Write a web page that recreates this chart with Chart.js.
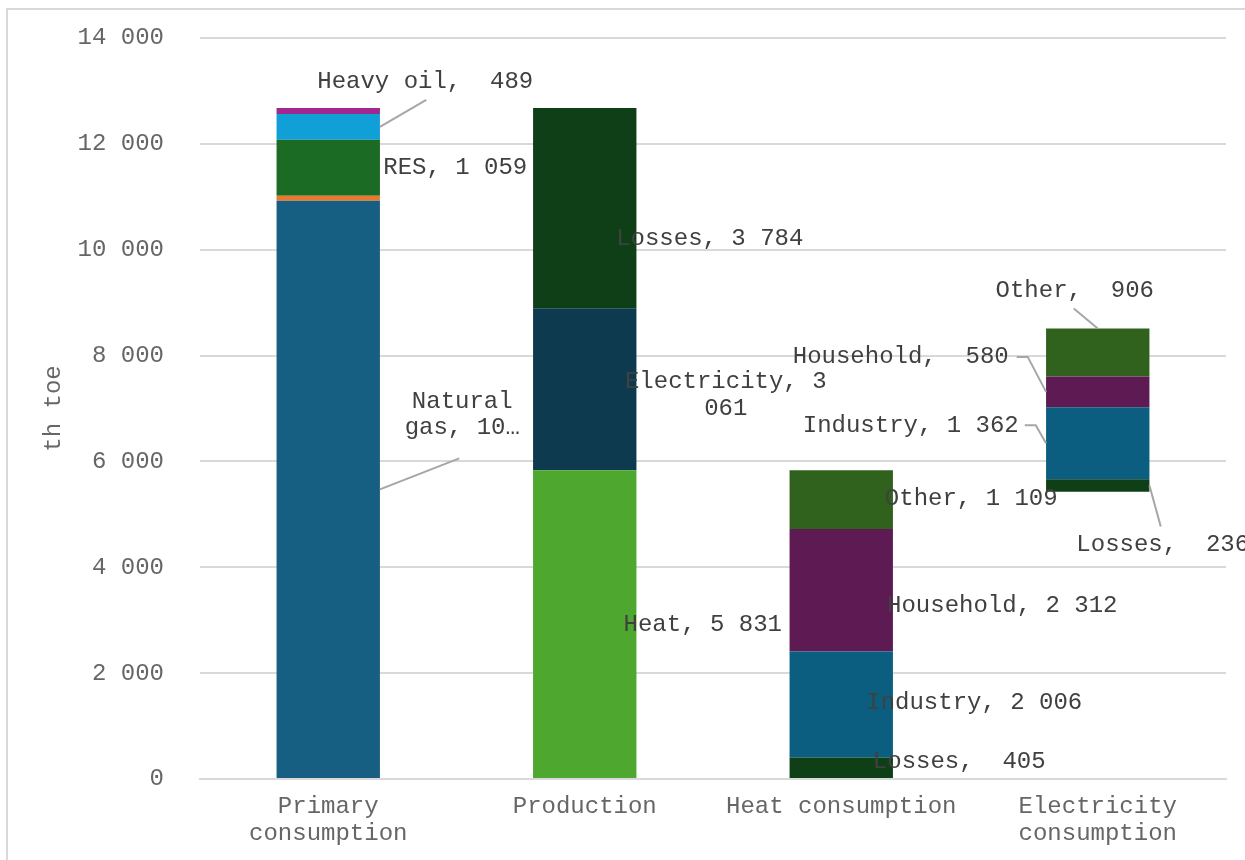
<!DOCTYPE html>
<html>
<head>
<meta charset="utf-8">
<title>Energy balance, th toe</title>
<script src="https://cdn.jsdelivr.net/npm/chart.js@4.4.1/dist/chart.umd.min.js"></script>
<style>
    html, body { margin: 0; padding: 0; background: #fff; }
    #chartBox { width: 1245px; height: 860px; }
</style>
</head>
<body>
<div id="chartBox"><canvas id="balanceChart" width="1245" height="860"></canvas></div>
<script>
// Categories on the x axis
const categories = [['Primary', 'consumption'], 'Production', 'Heat consumption', ['Electricity', 'consumption']];

// Segments of each column, bottom to top (th toe)
const primaryNames = ['Natural gas', 'Coal', 'RES', 'Heavy oil', 'Other fuels'];
const primaryValues = [10923, 95, 1059, 489, 110];

const productionNames = ['Heat', 'Electricity', 'Losses'];
const productionValues = [5831, 3061, 3784];

const heatNames = ['Losses', 'Industry', 'Household', 'Other'];
const heatValues = [405, 2006, 2312, 1109];

const elecNames = ['Losses', 'Industry', 'Household', 'Other'];
const elecValues = [236, 1362, 580, 906];

// Electricity consumption column floats on an invisible base
const floatBase = [0, 0, 0, 5426];

const yTicks = [0, 2000, 4000, 6000, 8000, 10000, 12000, 14000];

// Colours per column, bottom to top
const primaryColors = ['#175f82', '#e8792f', '#1b6b24', '#119fd8', '#a0288e'];
const productionColors = ['#4ea72e', '#0e3a50', '#0f3f17'];
const heatColors = ['#0f3f17', '#0b5e80', '#5e1a53', '#30621d'];
const elecColors = ['#0f3f17', '#0b5e80', '#5e1a53', '#30621d'];

const FONT = '"Courier New", "Liberation Mono", monospace';
const TEXT = '#404040';
const TICK = '#666666';
const GRID = '#d9d9d9';
const LEADER = '#a6a6a6';

function fmt(v) {
    const s = String(Math.round(v));
    if (s.length <= 3) return ' ' + s;
    return s.slice(0, s.length - 3) + ' ' + s.slice(s.length - 3);
}

// Greedy word wrap with ellipsis on the last allowed line
function wrap(text, maxChars, maxLines) {
    const words = text.split(' ');
    const lines = [];
    let cur = '';
    words.forEach(w => {
        const next = cur ? cur + ' ' + w : w;
        if (next.length > maxChars && cur) {
            lines.push(cur);
            cur = w;
        } else {
            cur = next;
        }
    });
    if (cur) lines.push(cur);
    if (maxLines && lines.length > maxLines) {
        const kept = lines.slice(0, maxLines);
        kept[maxLines - 1] = kept[maxLines - 1] + '…';
        return kept;
    }
    return lines;
}

// Build stacked datasets: one per stack level, coloured per column
const columns = [
    { names: primaryNames, values: primaryValues, colors: primaryColors },
    { names: productionNames, values: productionValues, colors: productionColors },
    { names: heatNames, values: heatValues, colors: heatColors },
    { names: elecNames, values: elecValues, colors: elecColors }
];
const levels = Math.max(...columns.map(c => c.values.length));

const datasets = [{
    label: 'base',
    data: floatBase,
    backgroundColor: 'rgba(0,0,0,0)',
    stack: 's'
}];
for (let i = 0; i < levels; i++) {
    datasets.push({
        label: 'level ' + (i + 1),
        data: columns.map(c => c.values[i] !== undefined ? c.values[i] : null),
        backgroundColor: columns.map(c => c.colors[i] || 'rgba(0,0,0,0)'),
        stack: 's'
    });
}

// Data label layout: offsets from the segment centre, optional leader line
// col = column index, seg = segment index within the column
const labelLayout = [
    { col: 0, seg: 0, dx: 134, dy: -75, wrap: 8, maxLines: 2, leader: { pts: [[131, -31]], edge: 'right' } },
    { col: 0, seg: 2, dx: 127, dy: 0 },
    { col: 0, seg: 3, dx: 97, dy: -45, leader: { pts: [[98, -27]], edge: 'right' } },
    { col: 1, seg: 0, dx: 118, dy: 0 },
    { col: 1, seg: 1, dx: 141, dy: 6, wrap: 14 },
    { col: 1, seg: 2, dx: 125, dy: 30 },
    { col: 2, seg: 0, dx: 118, dy: -6 },
    { col: 2, seg: 1, dx: 133, dy: -2 },
    { col: 2, seg: 2, dx: 161, dy: 15 },
    { col: 2, seg: 3, dx: 130, dy: -1 },
    { col: 3, seg: 0, dx: 65, dy: 59, leader: { pts: [[63, 41]], edge: 'right' } },
    { col: 3, seg: 1, dx: -187, dy: -18, leader: { pts: [[-73, -18], [-62, -18]], edge: 'left' } },
    { col: 3, seg: 2, dx: -197, dy: -35, leader: { pts: [[-81, -35], [-70, -35]], edge: 'left' } },
    { col: 3, seg: 3, dx: -23, dy: -62, leader: { pts: [[-24, -44]], edge: 'top' } }
];

const segmentLabels = {
    id: 'segmentLabels',
    afterDatasetsDraw(chart) {
        const ctx = chart.ctx;
        ctx.save();
        ctx.font = '24px ' + FONT;
        ctx.textAlign = 'center';
        ctx.textBaseline = 'middle';
        labelLayout.forEach(spec => {
            const col = columns[spec.col];
            const el = chart.getDatasetMeta(spec.seg + 1).data[spec.col];
            if (!el) return;
            const cx = el.x;
            const cy = (el.y + el.base) / 2;
            const hw = el.width / 2;

            if (spec.leader) {
                ctx.strokeStyle = LEADER;
                ctx.lineWidth = 2;
                ctx.beginPath();
                spec.leader.pts.forEach((p, i) => {
                    if (i === 0) ctx.moveTo(cx + p[0], cy + p[1]);
                    else ctx.lineTo(cx + p[0], cy + p[1]);
                });
                if (spec.leader.edge === 'right') ctx.lineTo(cx + hw, cy);
                else if (spec.leader.edge === 'left') ctx.lineTo(cx - hw, cy);
                else ctx.lineTo(cx, el.y);
                ctx.stroke();
            }

            const text = col.names[spec.seg] + ', ' + fmt(col.values[spec.seg]);
            const lines = spec.wrap ? wrap(text, spec.wrap, spec.maxLines) : [text];
            const lh = 26.5;
            ctx.fillStyle = TEXT;
            lines.forEach((ln, i) => {
                const y = cy + spec.dy + (i - (lines.length - 1) / 2) * lh;
                ctx.fillText(ln, cx + spec.dx, y);
            });
        });
        ctx.restore();
    }
};

const chartFrame = {
    id: 'chartFrame',
    beforeDraw(chart) {
        const ctx = chart.ctx;
        ctx.save();
        ctx.strokeStyle = GRID;
        ctx.lineWidth = 2;
        ctx.beginPath();
        ctx.moveTo(7, chart.height + 5);
        ctx.lineTo(7, 9);
        ctx.lineTo(chart.width + 5, 9);
        ctx.stroke();
        ctx.restore();
    }
};

new Chart(document.getElementById('balanceChart').getContext('2d'), {
    type: 'bar',
    data: { labels: categories, datasets: datasets },
    options: {
        responsive: false,
        animation: false,
        events: [],
        layout: { padding: { top: 38, right: 19, left: 0, bottom: 0 } },
        datasets: {
            bar: { categoryPercentage: 1, barPercentage: 0.403, borderWidth: 0 }
        },
        plugins: {
            legend: { display: false },
            tooltip: { enabled: false }
        },
        scales: {
            x: {
                stacked: true,
                grid: { display: false, drawTicks: false },
                border: { display: true, color: GRID, width: 2 },
                ticks: {
                    color: TICK,
                    font: { family: FONT, size: 24, lineHeight: 1.13 },
                    padding: 14,
                    maxRotation: 0,
                    autoSkip: false
                },
                afterFit(scale) { scale.height = 81; }
            },
            y: {
                stacked: true,
                min: 0,
                max: 14000,
                afterBuildTicks(scale) { scale.ticks = yTicks.map(v => ({ value: v })); },
                grid: { color: GRID, lineWidth: 2, drawTicks: false },
                border: { display: false },
                ticks: {
                    color: TICK,
                    font: { family: FONT, size: 24 },
                    padding: 36,
                    callback: v => fmt(v).trim()
                },
                title: {
                    display: true,
                    text: 'th toe',
                    color: TICK,
                    font: { family: FONT, size: 24 },
                    padding: { top: 39, bottom: 0 }
                },
                afterFit(scale) {
                    scale.width = 200;
                    scale.paddingTop = 0;
                    scale.paddingBottom = 0;
                }
            }
        }
    },
    plugins: [chartFrame, segmentLabels]
});
</script>
</body>
</html>
